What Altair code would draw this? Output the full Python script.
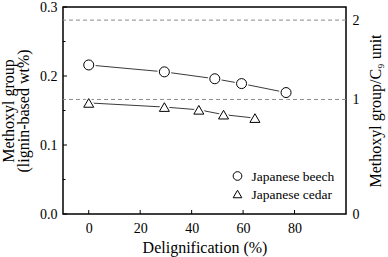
import altair as alt
import pandas as pd

# ---- data ----
series = ["Japanese beech", "Japanese cedar"]
beech_x = [0, 29.4, 49.0, 59.4, 76.7]
beech_y = [0.216, 0.206, 0.196, 0.189, 0.176]
cedar_x = [0, 29.4, 42.8, 52.4, 64.6]
cedar_y = [0.161, 0.155, 0.151, 0.144, 0.139]

ref_levels = [0.166, 0.281]             # 1 and 2 methoxyl groups per C9 unit
right_tick_pos = [0.0, 0.166, 0.281]
right_tick_labels = ["0", "1", "2"]
x_ticks = [0, 20, 40, 60, 80]
y_major = [0.0, 0.1, 0.2, 0.3]
y_minor = [0.05, 0.15, 0.25]
shapes = ["circle", "triangle-up"]

W, H = 283, 207
FONT = "Liberation Serif"

df = pd.DataFrame({
    "x": beech_x + cedar_x,
    "y": beech_y + cedar_y,
    "series": [series[0]] * len(beech_x) + [series[1]] * len(cedar_x),
})
leg_df = pd.DataFrame({"series": series})
ref_df = pd.DataFrame({"y": ref_levels})
xt_df = pd.DataFrame({"x": x_ticks})
ymaj_df = pd.DataFrame({"y": y_major})
ymin_df = pd.DataFrame({"y": y_minor})

xs = alt.Scale(domain=[-10, 100], nice=False, zero=False)
ys = alt.Scale(domain=[0, 0.3], nice=False, zero=False)
shape_scale = alt.Scale(domain=series, range=shapes)

label_expr = ("datum.value < 0.08 ? '%s' : datum.value < 0.22 ? '%s' : '%s'"
              % tuple(right_tick_labels))

lines = alt.Chart(df).mark_line(color="#3a3a3a", strokeWidth=1).encode(
    x=alt.X("x:Q", scale=xs, axis=alt.Axis(
        values=x_ticks, title="Delignification (%)", ticks=False, domain=False,
        grid=False, labelPadding=7, titlePadding=4, labelFontSize=14, titleFontSize=16)),
    y=alt.Y("y:Q", scale=ys, axis=alt.Axis(
        values=y_major, format=".1f", title=["Methoxyl group", "(lignin-based wt%)"],
        ticks=False, domain=False, grid=False, labelPadding=6, titlePadding=8,
        labelFontSize=14, titleFontSize=16, titleLineHeight=15)),
    detail="series:N",
)

halo = alt.Chart(df).mark_point(fill="white", stroke="white", strokeWidth=4,
                                opacity=1, fillOpacity=1, size=100).encode(
    x=alt.X("x:Q", scale=xs),
    y=alt.Y("y:Q", scale=ys, axis=None),
    shape=alt.Shape("series:N", scale=shape_scale, legend=None),
)

points = alt.Chart(df).mark_point(fill="white", stroke="black", strokeWidth=1,
                                  opacity=1, fillOpacity=1, size=100).encode(
    x=alt.X("x:Q", scale=xs),
    y=alt.Y("y:Q", scale=ys, axis=None),
    shape=alt.Shape("series:N", scale=shape_scale, legend=None),
)

# legend drawn inside the plot, bottom right
leg_y = alt.Y("series:N", scale=alt.Scale(type="point", domain=series, range=[169, 187],
                                           padding=0), axis=None)
leg_pts = alt.Chart(leg_df).mark_point(fill="white", stroke="black", strokeWidth=1,
                                       opacity=1, fillOpacity=1, size=75).encode(
    x=alt.value(174.5), y=leg_y,
    shape=alt.Shape("series:N", scale=shape_scale, legend=None),
)
leg_txt = alt.Chart(leg_df).mark_text(align="left", baseline="middle", font=FONT,
                                      fontSize=13.5, color="black", dy=0.5).encode(
    x=alt.value(188.5), y=leg_y, text="series:N",
)

refs = alt.Chart(ref_df).mark_rule(color="#8a8a8a", strokeWidth=1, strokeDash=[4, 3]).encode(
    y=alt.Y("y:Q", scale=ys, axis=alt.Axis(
        orient="right", values=right_tick_pos, labelExpr=label_expr,
        title="Methoxyl group/C\u2089 unit", ticks=False, domain=False, grid=False,
        labelPadding=6, titlePadding=8, labelFontSize=14, titleFontSize=16,
        titleAngle=270, titleBaseline="top")),
)

xticks = alt.Chart(xt_df).mark_rule(color="black", strokeWidth=1).encode(
    x=alt.X("x:Q", scale=xs), y=alt.value(H), y2=alt.value(H - 4))
ymaj = alt.Chart(ymaj_df).mark_rule(color="black", strokeWidth=1).encode(
    y=alt.Y("y:Q", scale=ys, axis=None), x=alt.value(0), x2=alt.value(4))
ymin = alt.Chart(ymin_df).mark_rule(color="black", strokeWidth=1).encode(
    y=alt.Y("y:Q", scale=ys, axis=None), x=alt.value(0), x2=alt.value(2.5))

chart = alt.layer(refs, lines, halo, points, leg_pts, leg_txt, xticks, ymaj, ymin).resolve_scale(
    y="independent", shape="independent"
).properties(
    width=W, height=H, autosize="none", background="white",
    padding={"left": 63, "top": 7, "right": 42, "bottom": 43},
).configure_view(
    stroke="black", strokeWidth=1.5
).configure_axis(
    labelFont=FONT, titleFont=FONT, labelColor="black", titleColor="black",
    titleFontWeight="normal",
).configure_text(
    font=FONT
)

chart.save("out.html", embed_options={"renderer": "svg", "actions": False})
